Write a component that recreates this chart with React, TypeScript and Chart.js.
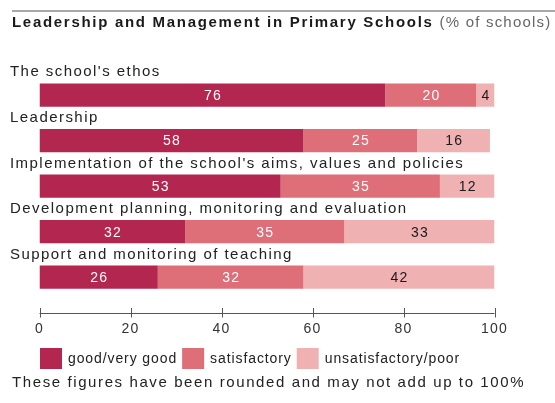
import React, { useEffect, useRef } from "react";
import { Chart, registerables } from "chart.js";

Chart.register(...registerables);

const titleMain = "Leadership and Management in Primary Schools";
const titleSub = "(% of schools)";
const footnote = "These figures have been rounded and may not add up to 100%";
const categories = [
  "The school's ethos",
  "Leadership",
  "Implementation of the school's aims, values and policies",
  "Development planning, monitoring and evaluation",
  "Support and monitoring of teaching",
];
const seriesLabels = ["good/very good", "satisfactory", "unsatisfactory/poor"];
const goodValues = [76, 58, 53, 32, 26];
const satisfactoryValues = [20, 25, 35, 35, 32];
const unsatisfactoryValues = [4, 16, 12, 33, 42];
const xTickValues = [0, 20, 40, 60, 80, 100];

const COLORS = ["#b2264f", "#de6f78", "#f0b1b3"];
const LABEL_COLORS = ["#ffffff", "#ffffff", "#1a1a1a"];
const FONT = "'Liberation Sans', Arial, Helvetica, sans-serif";
const TEXT = "#222222";

const decorPlugin = {
  id: "decor",
  beforeDraw(chart: any) {
    const ctx = chart.ctx;
    (ctx as any).letterSpacing = "1.2px";
  },
  afterDraw(chart: any) {
    const ctx = chart.ctx as CanvasRenderingContext2D;
    const xs = chart.scales.x;
    const area = chart.chartArea;
    ctx.save();

    // top rule
    ctx.fillStyle = "#a8a8a8";
    ctx.fillRect(12, 10, 543, 2);

    // title
    (ctx as any).letterSpacing = "1.7px";
    ctx.textBaseline = "alphabetic";
    ctx.textAlign = "left";
    ctx.font = `bold 15px ${FONT}`;
    ctx.fillStyle = "#1a1a1a";
    ctx.fillText(titleMain, 12, 27);
    const w = ctx.measureText(titleMain).width;
    (ctx as any).letterSpacing = "1.2px";
    ctx.font = `15px ${FONT}`;
    ctx.fillStyle = "#666666";
    ctx.fillText(titleSub, 12 + w + 6, 27);

    // category labels above bars
    const meta0 = chart.getDatasetMeta(0);
    (ctx as any).letterSpacing = "1.45px";
    ctx.font = `15px ${FONT}`;
    ctx.fillStyle = TEXT;
    categories.forEach((c, i) => {
      const el = meta0.data[i];
      const top = el.y - el.height / 2;
      ctx.fillText(c, 10, top - 7);
    });

    // axis line and tick marks
    const axisY = area.bottom + 13.5;
    ctx.strokeStyle = "#555555";
    ctx.lineWidth = 1;
    ctx.beginPath();
    ctx.moveTo(xs.getPixelForValue(0), axisY);
    ctx.lineTo(xs.getPixelForValue(100), axisY);
    xTickValues.forEach((v) => {
      const px = Math.round(xs.getPixelForValue(v)) + 0.5;
      ctx.moveTo(px, axisY - 5.5);
      ctx.lineTo(px, axisY + 4);
    });
    ctx.stroke();

    // legend
    (ctx as any).letterSpacing = "0.9px";
    ctx.font = `14px ${FONT}`;
    ctx.textBaseline = "middle";
    let lx = 40;
    const ly = 348;
    chart.data.datasets.forEach((ds: any) => {
      ctx.fillStyle = ds.backgroundColor;
      ctx.fillRect(lx, ly, 22, 21);
      ctx.fillStyle = TEXT;
      ctx.fillText(ds.label, lx + 28, ly + 11);
      lx += 28 + ctx.measureText(ds.label).width + 5;
    });

    // footnote
    (ctx as any).letterSpacing = "1.6px";
    ctx.font = `15px ${FONT}`;
    ctx.textBaseline = "alphabetic";
    ctx.fillStyle = TEXT;
    ctx.fillText(footnote, 12, 387);

    ctx.restore();
  },
  afterDatasetsDraw(chart: any) {
    const ctx = chart.ctx as CanvasRenderingContext2D;
    ctx.save();
    (ctx as any).letterSpacing = "1.2px";
    ctx.font = `14px ${FONT}`;
    ctx.textAlign = "center";
    ctx.textBaseline = "middle";
    chart.data.datasets.forEach((ds: any, di: number) => {
      const meta = chart.getDatasetMeta(di);
      meta.data.forEach((el: any, i: number) => {
        const cx = (el.x + el.base) / 2;
        ctx.fillStyle = LABEL_COLORS[di];
        ctx.fillText(String(ds.data[i]), cx + 0.6, el.y + 1);
      });
    });
    ctx.restore();
  },
};

export default function App() {
  const ref = useRef<HTMLCanvasElement | null>(null);
  useEffect(() => {
    if (!ref.current) return;
    const seriesValues = [goodValues, satisfactoryValues, unsatisfactoryValues];
    const chart = new Chart(ref.current, {
      type: "bar",
      data: {
        labels: categories,
        datasets: seriesLabels.map((label, i) => ({
          label,
          data: seriesValues[i],
          backgroundColor: COLORS[i],
          borderWidth: 0,
          categoryPercentage: 1,
          barPercentage: 0.51,
        })),
      },
      options: {
        indexAxis: "y",
        responsive: false,
        animation: false,
        devicePixelRatio: 1,
        layout: { padding: { left: 39.5, right: 60.5, top: 72.25, bottom: 63 } },
        plugins: { legend: { display: false }, tooltip: { enabled: false }, title: { display: false } },
        scales: {
          x: {
            stacked: true,
            min: 0,
            max: 100,
            afterFit: (s: any) => {
              s.height = 40;
            },
            afterBuildTicks: (s: any) => {
              s.ticks = xTickValues.map((v) => ({ value: v }));
            },
            ticks: {
              padding: 21,
              color: "#333333",
              font: { family: FONT, size: 14 },
              maxRotation: 0,
            },
            grid: { display: false, drawTicks: false },
            border: { display: false },
          },
          y: { stacked: true, display: false },
        },
      },
      plugins: [decorPlugin],
    } as any);
    return () => chart.destroy();
  }, []);
  return (
    <div style={{ position: "fixed", left: 0, top: 0, width: 555, height: 403, background: "#fff" }}>
      <canvas ref={ref} width={555} height={403} />
    </div>
  );
}
